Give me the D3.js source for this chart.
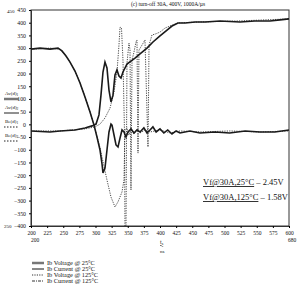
<!DOCTYPE html>
<html><head><meta charset="utf-8">
<script src="https://cdn.jsdelivr.net/npm/d3@7"></script>
<style>body{margin:0;background:#fff}svg{display:block}text{font-family:"Liberation Serif","DejaVu Serif",serif;fill:#111}</style>
</head><body><svg id="c" width="303" height="292"></svg>
<script>
const title = "(c) turn-off 30A, 400V, 1000A/\u00b5s";
const xTicks = [200,225,250,275,300,325,350,375,400,425,450,475,500,525,550,575,600];
const yTicks = [450,400,350,300,250,200,150,100,50,0,-50,-100,-150,-200,-250,-300,-350,-400];
const seriesNames = ["Ib Voltage @ 25\u00b0C","Ib Current @ 25\u00b0C","Ib Voltage @ 125\u00b0C","Ib Current @ 125\u00b0C"];
// time (ns)
const tA = [200,214,229.5,241.9,248,254.3,260.5,268.2,276,283.7,291.5,297.7,302.3,307,310.1,311.6,314.7,317.8,320.9,324,325.6,328.7,331.8,334.9,338,341.1,344.2,347.3,350.4,355,359.7,364.3,369,375,379.8,384.5,389,394,400,406,412,418.6,425,431,446.5,462,485,508,532,555,578,600];
const vA = [296,300,296,300,289,269,245,210,163,108,49,-3,-50,-101,-156,-191,-172,-101,-30,1,-3,-42,-81,-89,-54,-22,-30,-50,-30,-18,-34,-22,-30,-14,-34,-22,-10,-30,-18,-34,-22,-38,-26,-34,-26,-34,-30,-34,-26,-30,-30,-22];
const tB = [200,229.5,245,268.2,283.7,294.6,300.8,305.4,308.5,311.6,314.7,317.8,320.9,324,327.1,330.2,333.3,336.4,339.5,342.6,348.8,361.2,369,379.8,389.1,400,410.9,418.6,427.9,439,454.5,470,493,524,547,570.5,586,600];
const vB = [-26,-30,-26,-22,-14,-6,1,37,115,206,245,222,135,88,115,194,214,190,182,206,237,261,277,300,324,348,371,387,399,399,403,403,407,403,407,407,411,415];
const tC = [200,245,283.7,299.2,307,314.7,322.5,328.7,333.3,336.4,338,340.3,342.6,344.9,345.7,347.3,348.8,351.9,353.5,355,356.6,359.7,362.8,364.3,365.9,367.4,372.1,376.7,381.4,383,387.6,392.2,400,407.8,415.5,427.9,462,524,600];
const vC = [-26,-26,-18,-10,1,25,64,127,206,312,383,379,253,-22,-400,-400,241,320,293,-258,253,285,324,332,-113,292,312,332,-89,312,352,355,363,379,387,399,403,407,415];
const tD = [200,229.5,245,254.3,260.5,268.2,276,283.7,291.5,297.7,307,317.8,324,330.2,334.9,341.1,344.2,345.7,348.8,351.9,355,359.7,364.3,369,376.7,384.5,400,415.5,431,462,508,555,600];
const vD = [296,300,296,269,245,210,163,108,49,-3,-93,-219,-286,-325,-305,-266,-219,-22,-14,-42,-14,-38,-18,-34,-22,-30,-22,-34,-26,-30,-26,-30,-26];

const svg = d3.select("#c");
const x = d3.scaleLinear().domain([200,600]).range([31,289]);
const y = d3.scaleLinear().domain([-400,450]).range([226,10]);

svg.append("text").attr("x",168).attr("y",6).attr("text-anchor","middle").attr("font-size",5.5).text(title);
svg.append("rect").attr("x",31).attr("y",10).attr("width",258).attr("height",216).attr("fill","none").attr("stroke","#333").attr("stroke-width",1);

const yAxis = d3.axisLeft(y).tickValues(yTicks).tickSize(2).tickFormat(d3.format("d"));
const gy = svg.append("g").attr("transform","translate(31,0)").call(yAxis);
gy.selectAll("text").attr("font-size",5.8).attr("font-family","Liberation Serif").attr("fill","#111");
gy.select(".domain").attr("stroke","#333");
const xAxis = d3.axisBottom(x).tickValues(xTicks).tickSize(2).tickFormat(d3.format("d"));
const gx = svg.append("g").attr("transform","translate(0,226)").call(xAxis);
gx.selectAll("text").attr("font-size",5.5).attr("font-family","Liberation Serif").attr("fill","#111");
gx.select(".domain").attr("stroke","#333");

svg.append("text").attr("x",7).attr("y",13).attr("font-size",5).text("450");
svg.append("text").attr("x",4).attr("y",228).attr("font-size",5).text("250");
svg.append("text").attr("x",31).attr("y",242).attr("font-size",5.5).text("200");
svg.append("text").attr("x",288).attr("y",242).attr("font-size",5.5).text("680");
const ts = svg.append("text").attr("x",160).attr("y",244).attr("font-size",6).attr("text-decoration","underline");
ts.append("tspan").text("t");
ts.append("tspan").attr("font-size",4).attr("dy",1).text("s");
svg.append("text").attr("x",160).attr("y",253).attr("font-size",5).text("ns");

// left mini legend
const leftLab = ["Av(d)","Av(d)","Be(d)","Be(d)"];
const leftSub = ["1","2","1","2"];
const leftDash = [null,null,"1.5,1.5","1.5,1.5"];
const leftW = [2.5,1,1,1];
const leftCol = ["#777","#222","#222","#222"];
leftLab.forEach((l,i)=>{
  const yy = 95 + i*14;
  const t = svg.append("text").attr("x",5).attr("y",yy).attr("font-size",5);
  t.append("tspan").text(l);
  t.append("tspan").attr("font-size",3.5).attr("dy",1).text(leftSub[i]);
  svg.append("line").attr("x1",4).attr("x2",19).attr("y1",yy+4).attr("y2",yy+4)
    .attr("stroke",leftCol[i]).attr("stroke-width",leftW[i]).attr("stroke-dasharray",leftDash[i]);
});

const line = d3.line().x(d=>x(d[0])).y(d=>y(d[1]));
const zip = (a,b)=>a.map((v,i)=>[v,b[i]]);
svg.append("path").datum(zip(tD,vD)).attr("d",line).attr("fill","none").attr("stroke","#333").attr("stroke-width",0.9).attr("stroke-dasharray","1.2,1.2");
svg.append("path").datum(zip(tC,vC)).attr("d",line).attr("fill","none").attr("stroke","#333").attr("stroke-width",0.9).attr("stroke-dasharray","1.2,1.2");
svg.append("path").datum(zip(tA,vA)).attr("d",line).attr("fill","none").attr("stroke","#1a1a1a").attr("stroke-width",1.6);
svg.append("path").datum(zip(tB,vB)).attr("d",line).attr("fill","none").attr("stroke","#1a1a1a").attr("stroke-width",1.6);

// annotation
const a1 = svg.append("text").attr("x",203).attr("y",185).attr("font-size",8.5);
a1.append("tspan").attr("text-decoration","underline").text("Vf@30A,25\u00b0C");
a1.append("tspan").text(" \u2013 2.45V");
const a2 = svg.append("text").attr("x",203).attr("y",200).attr("font-size",8.5);
a2.append("tspan").attr("text-decoration","underline").text("Vf@30A,125\u00b0C");
a2.append("tspan").text(" \u2013 1.58V");

// bottom legend
const lgDash = [null,null,"1.2,1.2","3,1,1,1"];
const lgW = [2.5,1,1,1];
const lgCol = ["#777","#111","#333","#333"];
seriesNames.forEach((n,i)=>{
  const yy = 263 + i*6;
  svg.append("line").attr("x1",32).attr("x2",44).attr("y1",yy).attr("y2",yy)
    .attr("stroke",lgCol[i]).attr("stroke-width",lgW[i]).attr("stroke-dasharray",lgDash[i]);
  svg.append("text").attr("x",47).attr("y",yy+2).attr("font-size",6.3).text(n);
});
</script></body></html>
